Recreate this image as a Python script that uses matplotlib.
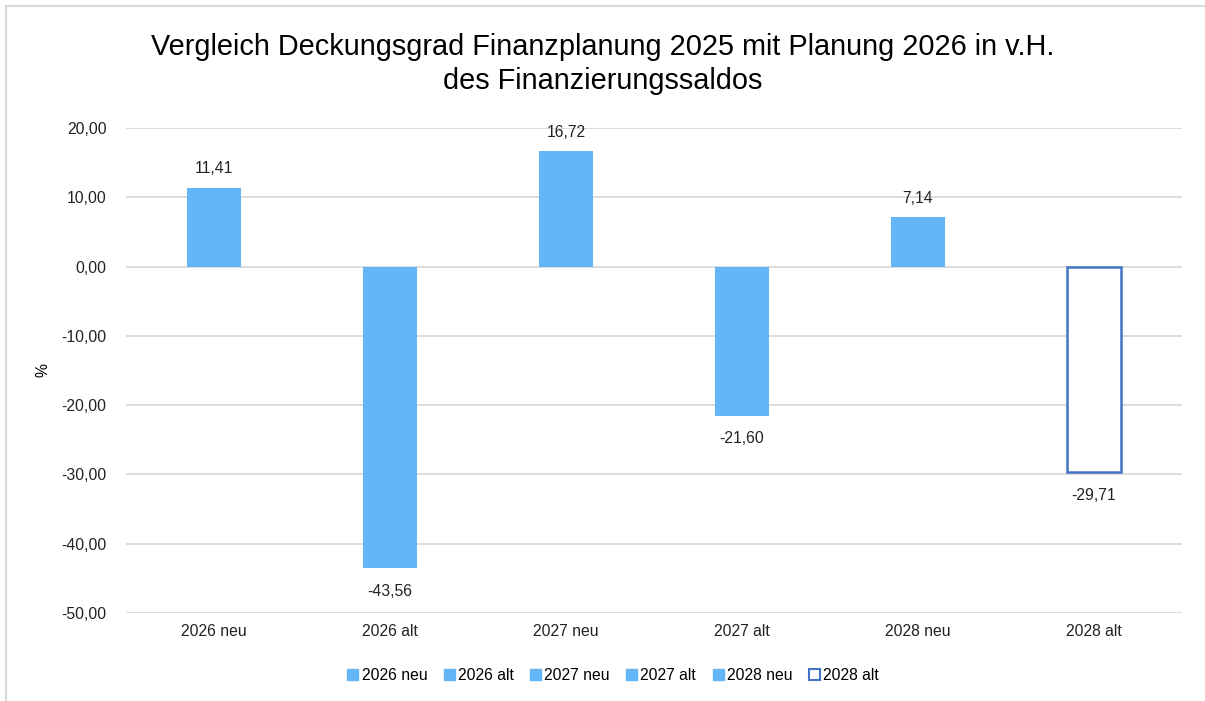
"""Deckungsgrad-Vergleich als Balkendiagramm."""
import matplotlib

matplotlib.use("Agg")
import matplotlib.pyplot as plt
from matplotlib.lines import Line2D
from matplotlib.patches import Patch

plt.rcParams["font.family"] = ["Liberation Sans", "DejaVu Sans"]

kategorien = ["2026 neu", "2026 alt", "2027 neu", "2027 alt", "2028 neu", "2028 alt"]
werte = [11.41, -43.56, 16.72, -21.60, 7.14, -29.71]
y_ticks = [20, 10, 0, -10, -20, -30, -40, -50]

BLAU = "#64B5F6"
RAND = "#4472C4"
GITTER = "#D9D9D9"
FS = 11.3

fig = plt.figure(figsize=(12.05, 7.01), dpi=100)
ax = fig.add_axes([126 / 1205, 1 - 613 / 701, 1056 / 1205, 485 / 701])

x = list(range(len(kategorien)))
for i, (kat, w) in enumerate(zip(kategorien, werte)):
    if i == len(kategorien) - 1:
        # letzte Serie: nur Umriss
        ax.bar(i, w, width=0.31, facecolor="white", edgecolor=RAND, linewidth=1.8, zorder=3)
    else:
        ax.bar(i, w, width=0.31, color=BLAU, zorder=3)
    txt = f"{w:.2f}".replace(".", ",")
    versatz = 1.6 if w >= 0 else -2.2
    ax.text(i, w + versatz, txt, ha="center", va="bottom" if w >= 0 else "top",
            fontsize=FS, color="#222222")

ax.set_xlim(-0.5, len(kategorien) - 0.5)
ax.set_ylim(-50, 20)
ax.set_yticks(y_ticks)
ax.set_yticklabels([f"{t:.2f}".replace(".", ",") for t in y_ticks])
ax.set_xticks(x)
ax.set_xticklabels(kategorien)
ax.tick_params(axis="both", length=0, labelsize=FS, colors="#222222")
ax.tick_params(axis="y", pad=14)
ax.tick_params(axis="x", pad=8)
ax.grid(axis="y", color=GITTER, linewidth=1.3, zorder=0)
for s in ax.spines.values():
    s.set_visible(False)
ax.set_ylabel("%", fontsize=FS)
ax.yaxis.set_label_coords(-75 / 1056, 0.5)

fig.text(0.5, 1 - 64 / 701, "Vergleich Deckungsgrad Finanzplanung 2025 mit Planung 2026 in v.H.\ndes Finanzierungssaldos",
         ha="center", va="center", fontsize=20.8, linespacing=1.3)

handles = [Patch(facecolor=BLAU, edgecolor=BLAU) for _ in kategorien[:-1]]
handles.append(Patch(facecolor="white", edgecolor=RAND, linewidth=1.5))
fig.legend(handles, kategorien, loc="center", bbox_to_anchor=(613 / 1205, 1 - 675 / 701),
           ncol=6, frameon=False, fontsize=FS, handlelength=0.7, handleheight=0.7,
           handletextpad=0.2, columnspacing=1.05)

# Rahmen links und oben
fig.add_artist(Line2D([6 / 1205, 6 / 1205], [0, 1 - 6 / 701], color=GITTER, linewidth=1.5))
fig.add_artist(Line2D([6 / 1205, 1], [1 - 6 / 701, 1 - 6 / 701], color=GITTER, linewidth=1.5))

fig.savefig("out.png", dpi=100)
